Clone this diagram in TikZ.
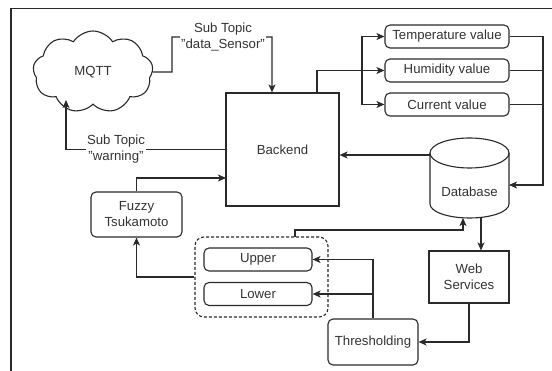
\documentclass[tikz,border=0pt]{standalone}
\usepackage{fontspec}
\setmainfont{Liberation Sans}
\usetikzlibrary{shapes.symbols,arrows.meta,calc}
\definecolor{ln}{HTML}{2a2a2a}
\definecolor{txt}{HTML}{333333}
\begin{document}
\begin{tikzpicture}[x=1pt,y=-1pt,
  every node/.style={font=\fontsize{13.2}{16}\selectfont, text=txt, align=center},
  rbox/.style={draw=ln, line width=1.1pt, rounded corners=5pt, inner sep=0pt},
  sqbox/.style={draw=ln, line width=1.1pt, inner sep=0pt},
  conn/.style={draw=ln, line width=1.1pt, -{Stealth[length=8pt,width=7pt,inset=2pt]}},
  plain/.style={draw=ln, line width=1.1pt},
  lbl/.style={fill=white, inner sep=1pt}]
\useasboundingbox (0,0) rectangle (552,371);
% frame
\draw[ln, line width=1.2pt] (11,371) -- (11,8.5) -- (552,8.5);

% nodes
\node[cloud, draw=ln, line width=1.1pt, cloud puffs=9, cloud puff arc=115, aspect=1.55,
      minimum width=120pt, minimum height=82pt, inner sep=0pt] (mqtt) at (93,72) {MQTT};
\node[sqbox, minimum width=113pt, minimum height=113pt] (backend) at (282.5,149.5) {Backend};
\node[rbox, minimum width=124pt, minimum height=23pt] (temp) at (447,36.5) {Temperature value};
\node[rbox, minimum width=124pt, minimum height=23pt] (hum) at (447,70.5) {Humidity value};
\node[rbox, minimum width=124pt, minimum height=23pt] (cur) at (447,104.5) {Current value};
\node[rbox, minimum width=91pt, minimum height=45pt] (fuzzy) at (136.5,214.5) {Fuzzy\\Tsukamoto};
\node[draw=ln, line width=1.1pt, dash pattern=on 3pt off 2pt, rounded corners=9pt,
      minimum width=133pt, minimum height=80pt, inner sep=0pt] (grp) at (261.5,277) {};
\node[rbox, minimum width=108pt, minimum height=23pt] (upper) at (258,259.5) {Upper};
\node[rbox, minimum width=108pt, minimum height=23pt] (lower) at (258,294) {Lower};
\node[sqbox, minimum width=80pt, minimum height=52pt] (web) at (469,277) {Web\\Services};
\node[rbox, minimum width=90pt, minimum height=46pt] (thr) at (373,342) {Thresholding};

% database cylinder
\draw[ln, line width=1.1pt] (469.5,153) ellipse [x radius=39.5pt, y radius=15pt];
\draw[ln, line width=1.1pt] (430,153) -- (430,204)
   arc[start angle=180, end angle=360, x radius=39.5pt, y radius=14pt] -- (509,153);
\node[minimum width=79pt, minimum height=80pt, inner sep=0pt] (db) at (469.5,178) {};
\node at (469.5,192) {Database};

% coordinates
\coordinate (ds) at (272,37);
\coordinate (mqttb) at (66,100);
\coordinate (bk2) at (226,178);
\coordinate (g1) at (295,237);
\coordinate (dbb) at (463,218);
\coordinate (dbb2) at (481,217.5);
\coordinate (dbw) at (430,155);
\coordinate (bt) at (317,93);
\coordinate (sp) at (362,70.5);
\coordinate (rt) at (543,36.5);
\coordinate (dbr) at (509,185);

% connectors
\draw[conn] (mqtt.east) -- (172,72) |- (ds) -- (backend.north -| ds);
\node[lbl] at (223,37) {Sub Topic\\"data\_Sensor"};
\draw[conn] (backend.west) -- (mqttb |- backend.west) -- (mqttb);
\node[lbl] at (116,149.5) {Sub Topic\\"warning"};
\draw[conn] (fuzzy.north) |- (bk2);
\draw[conn] (grp.west) -| (fuzzy.south);
\draw[conn] (g1) -- ++(0,-7) -| (dbb);
\draw[conn] (thr.north) |- (upper.east);
\draw[conn] (thr.north |- lower.east) -- (lower.east);
\draw[conn] (web.south) |- (thr.east);
\draw[conn] (dbb2) -- (web.north -| dbb2);
\draw[conn] (dbw) -- (backend.east |- dbw);
\draw[plain] (bt) |- (sp);
\draw[conn] (sp) -- (hum.west);
\draw[conn] (sp) |- (temp.west);
\draw[conn] (sp) |- (cur.west);
\draw[plain] (hum.east) -- (rt |- hum.east);
\draw[plain] (cur.east) -- (rt |- cur.east);
\draw[conn] (temp.east) -- (rt) -- (rt |- dbr) -- (dbr);
\end{tikzpicture}
\end{document}
